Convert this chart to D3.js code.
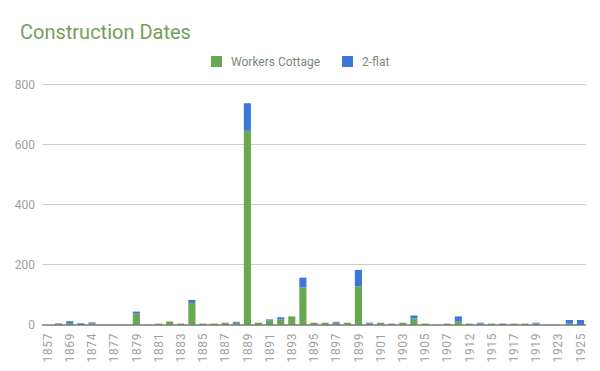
<!DOCTYPE html>
<style>
body { margin: 0; background: #fff; }
text { font-family: Roboto, sans-serif; }
</style>
<svg width="600" height="371"></svg>
<script src="https://d3js.org/d3.v7.min.js"></script>
<script>

var years = ["1857","1865","1869","1872","1874","1876","1877","1878","1879","1880",
             "1881","1882","1883","1884","1885","1886","1887","1888","1889","1890",
             "1891","1892","1893","1894","1895","1896","1897","1898","1899","1900",
             "1901","1902","1903","1904","1905","1906","1907","1910","1912","1914",
             "1915","1916","1917","1918","1919","1920","1923","1924","1925"];

var cottage = [0,4,5,0,4,0,0,0,36,0,
               3,10,3,72,3,3,6,6,645,6,
               13,17,27,123,6,6,6,6,127,3,
               6,3,6,20,3,0,3,10,3,3,
               3,0,3,3,3,0,0,3,0];

var twoFlat = [0,0,6,4,3,0,0,0,7,0,
               0,0,0,10,0,0,0,3,92,0,
               4,7,0,33,0,0,3,0,55,3,
               0,0,0,10,0,0,0,17,0,3,
               0,3,0,0,3,0,0,12,15];

var yTicks = [0, 200, 400, 600, 800];
var keys = ["Workers Cottage", "2-flat"];
var colors = ["#6aa84f", "#3c78d8"];

var svg = d3.select("svg");

var x = d3.scaleBand()
    .domain(years)
    .range([42, 586])
    .paddingInner(0.36)
    .paddingOuter(0.18);

var y = d3.scaleLinear()
    .domain([0, 800])
    .range([324.5, 84.3]);

// gridlines
svg.append("g")
  .selectAll("line")
  .data(yTicks.slice(1))
  .enter().append("line")
    .attr("x1", 42).attr("x2", 586)
    .attr("y1", function(d) { return Math.round(y(d)) + 0.5; })
    .attr("y2", function(d) { return Math.round(y(d)) + 0.5; })
    .attr("stroke", "#cccccc");

// y labels
svg.append("g")
  .selectAll("text")
  .data(yTicks)
  .enter().append("text")
    .attr("x", 35)
    .attr("y", function(d) { return y(d); })
    .attr("dy", "0.35em")
    .attr("text-anchor", "end")
    .attr("font-size", 12)
    .attr("fill", "#a0a0a0")
    .text(function(d) { return d; });

// stacked bars
var rows = years.map(function(yr, i) { return {year: yr, a: cottage[i], b: twoFlat[i]}; });

var bars = svg.append("g");
bars.selectAll("rect.a")
  .data(rows)
  .enter().append("rect")
    .attr("class", "a")
    .attr("x", function(d) { return x(d.year); })
    .attr("width", x.bandwidth())
    .attr("y", function(d) { return y(d.a); })
    .attr("height", function(d) { return y(0) - y(d.a); })
    .attr("fill", colors[0]);

bars.selectAll("rect.b")
  .data(rows)
  .enter().append("rect")
    .attr("class", "b")
    .attr("x", function(d) { return x(d.year); })
    .attr("width", x.bandwidth())
    .attr("y", function(d) { return y(d.a + d.b); })
    .attr("height", function(d) { return y(d.a) - y(d.a + d.b); })
    .attr("fill", colors[1]);

// baseline
svg.append("line")
    .attr("x1", 42).attr("x2", 586)
    .attr("y1", 325).attr("y2", 325)
    .attr("stroke", "#333")
    .attr("stroke-width", 1);

// x labels, every other year
svg.append("g")
  .selectAll("text")
  .data(years.filter(function(d, i) { return i % 2 === 0; }))
  .enter().append("text")
    .attr("transform", function(d) {
      return "translate(" + (x(d) + x.bandwidth() / 2) + ",333) rotate(-90)";
    })
    .attr("dy", "0.35em")
    .attr("text-anchor", "end")
    .attr("font-size", 12)
    .attr("letter-spacing", 0.6)
    .attr("fill", "#a0a0a0")
    .text(function(d) { return d; });

// title
svg.append("text")
    .attr("x", 20)
    .attr("y", 39)
    .attr("font-size", 20)
    .attr("fill", "#72a05a")
    .text("Construction Dates");

// legend
var legend = svg.append("g")
  .selectAll("g")
  .data(keys)
  .enter().append("g")
    .attr("transform", function(d, i) { return "translate(" + [211, 342][i] + ",56)"; });

legend.append("rect")
    .attr("width", 11)
    .attr("height", 11)
    .attr("fill", function(d, i) { return colors[i]; });

legend.append("text")
    .attr("x", 20)
    .attr("y", 5.5)
    .attr("dy", "0.35em")
    .attr("font-size", 12)
    .attr("fill", "#7b8a78")
    .text(function(d) { return d; });

</script>
